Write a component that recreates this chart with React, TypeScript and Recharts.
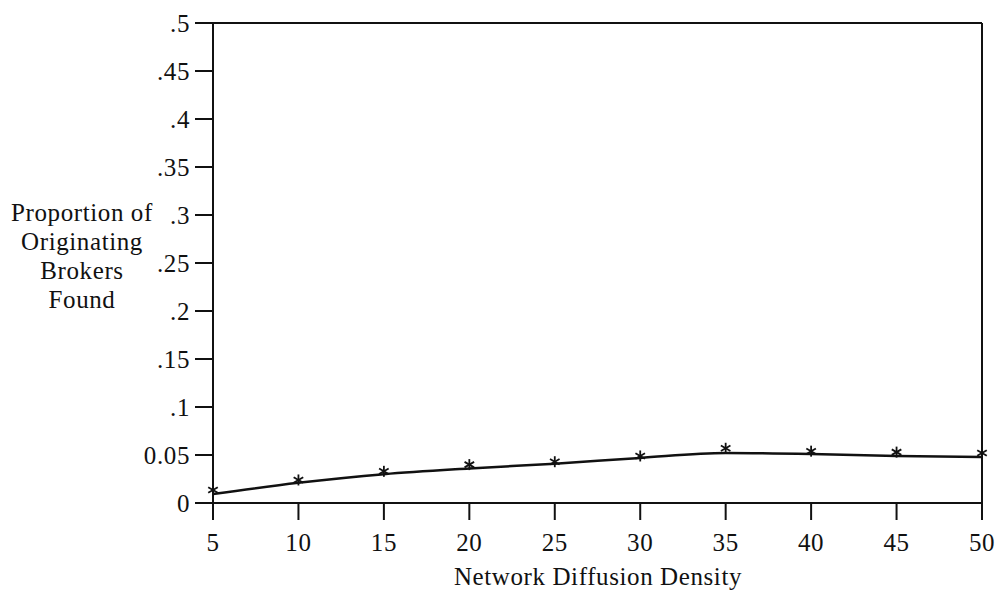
import { ComposedChart, Line, XAxis, YAxis, ReferenceLine } from 'recharts';

const density = [5, 10, 15, 20, 25, 30, 35, 40, 45, 50];
const observed = [0.0135, 0.024, 0.033, 0.04, 0.043, 0.049, 0.057, 0.054, 0.053, 0.052];
const fitted = [0.0094, 0.021, 0.03, 0.036, 0.041, 0.047, 0.052, 0.051, 0.049, 0.048];

const yTicks = [0, 0.05, 0.1, 0.15, 0.2, 0.25, 0.3, 0.35, 0.4, 0.45, 0.5];
const yTickLabels = ['0', '0.05', '.1', '.15', '.2', '.25', '.3', '.35', '.4', '.45', '.5'];

const yTitle = ['Proportion of', 'Originating', 'Brokers', 'Found'];
const xTitle = 'Network Diffusion Density';

const data = density.map((d, i) => ({ density: d, observed: observed[i], fitted: fitted[i] }));

const serif = '"Liberation Serif", "Times New Roman", serif';
const tickStyle = { fill: '#111', fontSize: 25, fontFamily: serif, letterSpacing: 0.6 };

const Asterisk = (props: any) => {
  const { cx, cy } = props;
  if (cx == null || cy == null) return null;
  const r = 5.5;
  const a = r * 0.87;
  const b = r * 0.5;
  return (
    <g stroke="#111" strokeWidth={1.8}>
      <line x1={cx} y1={cy - r} x2={cx} y2={cy + r} />
      <line x1={cx - a} y1={cy - b} x2={cx + a} y2={cy + b} />
      <line x1={cx - a} y1={cy + b} x2={cx + a} y2={cy - b} />
    </g>
  );
};

export default function App() {
  return (
    <div style={{ position: 'absolute', left: 0, top: 0, width: 997, height: 593, background: '#fff', fontFamily: serif }}>
      <ComposedChart
        width={997}
        height={593}
        data={data}
        margin={{ top: 23, right: 15, bottom: 0, left: 0 }}
        style={{ fontFamily: serif }}
      >
        <XAxis
          dataKey="density"
          type="number"
          domain={[5, 50]}
          ticks={density}
          height={90}
          tickSize={17}
          tickMargin={13}
          stroke="#111"
          strokeWidth={2}
          tick={tickStyle}
        />
        <YAxis
          type="number"
          domain={[0, 0.5]}
          ticks={yTicks}
          width={213}
          tickSize={18}
          tickMargin={5}
          interval={0}
          allowDataOverflow
          stroke="#111"
          strokeWidth={2}
          tickFormatter={(v: number) => yTickLabels[yTicks.indexOf(v)] ?? String(v)}
          tick={tickStyle}
        />
        <ReferenceLine y={0.5} stroke="#111" strokeWidth={2} />
        <ReferenceLine x={50} stroke="#111" strokeWidth={2} />
        <Line
          dataKey="fitted"
          type="monotone"
          stroke="#111"
          strokeWidth={2.5}
          dot={false}
          activeDot={false}
          isAnimationActive={false}
        />
        <Line
          dataKey="observed"
          stroke="none"
          dot={<Asterisk />}
          activeDot={false}
          isAnimationActive={false}
        />
      </ComposedChart>
      <div
        style={{
          position: 'absolute',
          left: 2,
          width: 160,
          top: 198,
          textAlign: 'center',
          fontSize: 25,
          letterSpacing: 0.6,
          lineHeight: '29px',
          color: '#111',
        }}
      >
        {yTitle.map((t) => (
          <div key={t}>{t}</div>
        ))}
      </div>
      <div
        style={{
          position: 'absolute',
          left: 348,
          width: 500,
          top: 563,
          textAlign: 'center',
          fontSize: 25,
          letterSpacing: 0.6,
          color: '#111',
        }}
      >
        {xTitle}
      </div>
    </div>
  );
}
